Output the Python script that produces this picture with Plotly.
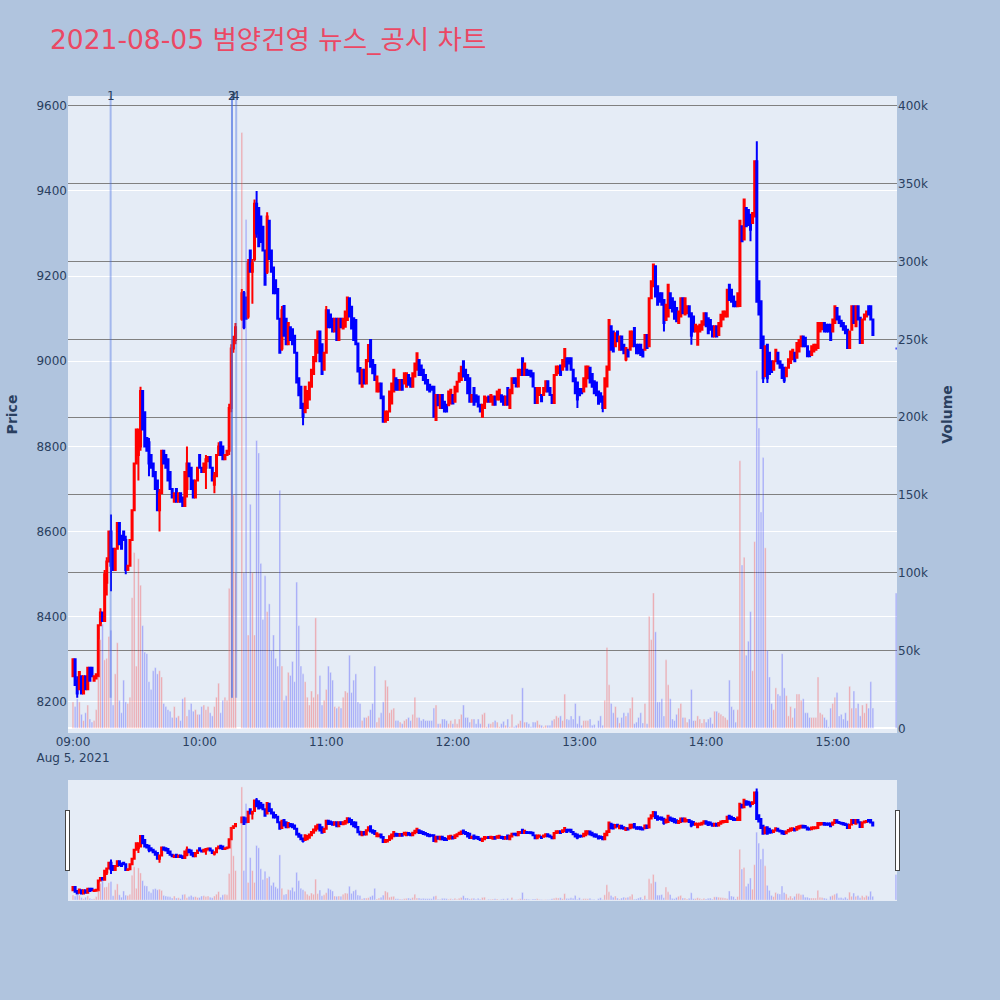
import pandas as pd
import plotly.graph_objects as go
from plotly.subplots import make_subplots

title = "2021-08-05 범양건영 뉴스_공시 차트"
day = "2021-08-05"

# 1분봉 09:00 ~ 15:19 (10:18, 10:19 체결 없음) + 15:30 종가
skip_times = ["10:18", "10:19"]
close_time = "15:30"

open_p = [
    # 09:00
    8260, 8300, 8250, 8230, 8260, 8220, 8260, 8230, 8280, 8280,
    8250, 8255, 8260, 8380, 8410, 8390, 8480, 8530, 8600, 8560,
    8510, 8560, 8620, 8590, 8600, 8580, 8510, 8520, 8580, 8650,
    8760, 8780, 8800, 8930, 8880, 8820, 8810, 8780, 8760, 8740,
    8720, 8650, 8690, 8790, 8780, 8770, 8740, 8700, 8670, 8700,
    8670, 8690, 8680, 8660, 8700, 8760, 8750, 8720, 8680, 8720,
    # 10:00
    8780, 8750, 8740, 8750, 8765, 8775, 8750, 8710, 8730, 8780,
    8810, 8800, 8770, 8780, 8790, 8890, 9030, 9050,
    9100, 9160, 9150, 9105, 9260, 9210, 9240, 9370, 9360, 9340,
    9316, 9260, 9210, 9330, 9260, 9220, 9190, 9170, 9100, 9030,
    9130, 9100, 9040, 9080, 9075, 9060, 9020, 8960, 8940, 8900,
    8880, 8890, 8910, 8940, 8970, 9000, 9020, 9070, 9040, 8980,
    # 11:00
    9020, 9120, 9110, 9100, 9070, 9100, 9050,
    9100, 9077, 9081, 9097, 9148, 9128, 9101, 9097, 9042, 8984,
    8940, 8980, 8948, 9000, 9050, 9003, 8991, 8929, 8929, 8948,
    8917, 8858, 8862, 8882, 8901, 8929, 8960, 8956, 8933, 8956,
    8948, 8940, 8968, 8960, 8940, 8964, 8980, 9003, 8990, 8980,
    8968, 8956, 8945, 8940, 8940, 8862, 8921, 8890, 8921, 8905,
    # 11:57
    8898, 8897, 8901, 8921, 8905, 8929, 8952, 8956, 9000, 8980,
    8968, 8960, 8905,
    8937, 8920, 8917, 8898, 8870, 8890, 8905, 8917, 8905, 8898,
    8917, 8910, 8910, 8920, 8917, 8898, 8937, 8890, 8925, 8960,
    8960, 8941, 8968, 9007, 8968, 8980, 8978, 8978, 8972, 8937,
    8902, 8921, 8921, 8921, 8929, 8953, 8937, 8921, 8902, 8968,
    8972, 8990, 8980, 8988, 9007, 9007, 9007, 8980, 8960, 8950,
    # 13:00
    8935, 8935, 8929, 8941, 8960, 8985, 8970, 8953, 8950, 8929,
    8925, 8917, 8890, 8941,
    8980, 9082, 9070, 9035, 9070, 9027, 9058, 9039, 9004, 9027,
    9027, 9035, 9078, 9039, 9039, 9039, 9027, 9027, 9062, 9035,
    9148, 9176, 9223, 9176, 9160, 9160, 9144, 9097, 9105, 9160,
    9148, 9140, 9125, 9090, 9105, 9148, 9110, 9113, 9129, 9113,
    # 13:54
    9105, 9070, 9039, 9070, 9074, 9086, 9113, 9101, 9097, 9082,
    9058, 9082, 9062, 9082, 9098, 9105, 9105, 9180, 9168, 9152,
    9140, 9129,
    9130, 9317, 9286, 9360, 9355, 9344, 9325, 9340, 9470, 9188,
    9141, 9058, 8965, 9039, 9020, 9000, 8980, 9000, 9020, 9000,
    8992, 8985, 8965, 8985, 8996, 9005, 9020, 9008, 9023, 9035,
    9058, 9055, 9035, 9023, 9015, 9023, 9027, 9031, 9070, 9075,
    9090, 9086, 9086, 9086, 9070, 9090, 9125, 9105, 9095, 9090,
    9082, 9074, 9031, 9074, 9129, 9082, 9129, 9102, 9043, 9098,
    9105, 9129, 9129, 9098,
    9030,
]

close_p = [
    # 09:00
    8300, 8240, 8220, 8270, 8220, 8260, 8230, 8280, 8250, 8260,
    8260, 8265, 8380, 8410, 8390, 8500, 8530, 8600, 8520, 8510,
    8560, 8620, 8570, 8560, 8580, 8510, 8520, 8580, 8650, 8760,
    8840, 8840, 8930, 8840, 8800, 8790, 8760, 8750, 8730, 8700,
    8650, 8690, 8790, 8760, 8750, 8720, 8700, 8680, 8690, 8670,
    8690, 8670, 8660, 8740, 8760, 8730, 8700, 8680, 8720, 8750,
    # 10:00
    8750, 8740, 8760, 8770, 8775, 8750, 8720, 8730, 8780, 8800,
    8780, 8770, 8780, 8790, 8890, 9030, 9050, 9080,
    9160, 9080, 9100, 9230, 9210, 9230, 9370, 9300, 9270, 9280,
    9260, 9180, 9340, 9240, 9210, 9160, 9160, 9100, 9020, 9120,
    9060, 9040, 9090, 9050, 9040, 9020, 8950, 8920, 8890, 8870,
    8940, 8930, 8950, 8980, 9010, 9050, 9070, 9000, 8970, 9020,
    # 11:00
    9120, 9080, 9080, 9070, 9100, 9050, 9100,
    9080, 9100, 9117, 9150, 9105, 9077, 9050, 9040, 8976, 8948,
    8980, 8948, 9003, 9038, 8987, 8972, 8956, 8964, 8948, 8913,
    8858, 8882, 8882, 8929, 8948, 8980, 8933, 8933, 8956, 8933,
    8972, 8972, 8945, 8940, 8972, 8995, 9019, 8968, 8968, 8956,
    8948, 8933, 8929, 8933, 8870, 8921, 8897, 8921, 8890, 8882,
    # 11:57
    8882, 8929, 8933, 8901, 8940, 8952, 8972, 8987, 8964, 8956,
    8925, 8905, 8921,
    8898, 8905, 8894, 8882, 8898, 8917, 8915, 8905, 8921, 8917,
    8898, 8929, 8933, 8905, 8898, 8917, 8898, 8933, 8960, 8949,
    8941, 8980, 8980, 8968, 8995, 8968, 8968, 8964, 8941, 8902,
    8937, 8937, 8906, 8937, 8953, 8929, 8921, 8902, 8968, 8988,
    8988, 8968, 9003, 9029, 8980, 8995, 8980, 8953, 8925, 8910,
    # 13:00
    8920, 8925, 8960, 8988, 8988, 8950, 8940, 8925, 8920, 8900,
    8905, 8890, 8960, 8988,
    9097, 9027, 9023, 9066, 9047, 9058, 9027, 9019, 9031, 9011,
    9070, 9070, 9035, 9019, 9019, 9015, 9011, 9062, 9031, 9148,
    9188, 9227, 9152, 9133, 9140, 9133, 9090, 9133, 9180, 9125,
    9117, 9100, 9094, 9117, 9148, 9113, 9148, 9129, 9105, 9060,
    # 13:54
    9070, 9086, 9082, 9086, 9094, 9113, 9082, 9066, 9074, 9058,
    9082, 9058, 9090, 9109, 9117, 9117, 9168, 9144, 9140, 9129,
    9129, 9160,
    9330, 9282, 9380, 9317, 9320, 9309, 9348, 9470, 9140, 9110,
    9031, 8960, 9035, 8960, 8970, 8975, 9000, 9027, 8995, 8985,
    8961, 8955, 8985, 9005, 9023, 9027, 9000, 9043, 9050, 9058,
    9035, 9035, 9012, 9012, 9035, 9039, 9039, 9090, 9090, 9090,
    9070, 9070, 9070, 9050, 9098, 9129, 9098, 9090, 9082, 9074,
    9066, 9031, 9070, 9129, 9090, 9129, 9098, 9043, 9098, 9110,
    9117, 9110, 9098, 9062,
    9030,
]

# 꼬리가 몸통 밖으로 나온 봉: 시각 -> (고가, 저가)
wicks = {
    "09:02": (8260, 8210), "09:13": (8420, 8380), "09:15": (8510, 8390),
    "09:16": (8540, 8450), "09:18": (8640, 8460), "09:25": (8590, 8500),
    "09:31": (8840, 8720), "09:32": (8940, 8790), "09:36": (8820, 8730),
    "09:41": (8700, 8600), "09:54": (8800, 8680), "10:03": (8780, 8700),
    "10:07": (8740, 8690), "10:09": (8810, 8780), "10:14": (8900, 8780),
    "10:15": (9040, 8880), "10:16": (9060, 9020), "10:17": (9090, 9040),
    "10:20": (9170, 9095), "10:21": (9165, 9075), "10:23": (9240, 9100),
    "10:25": (9240, 9135), "10:26": (9380, 9235), "10:27": (9400, 9290),
    "10:32": (9350, 9205), "10:39": (9130, 9025), "10:49": (8900, 8850),
    "11:00": (9130, 9020), "12:59": (8950, 8890), "13:11": (8917, 8880),
    "13:22": (9031, 9000), "13:40": (9144, 9070), "13:53": (9113, 9039),
    "14:21": (9344, 9282), "14:24": (9517, 9140), "14:27": (9058, 8949),
    "14:29": (9039, 8949), "14:37": (8985, 8949),
}

# 거래량 (천 주)
volume_k = [
    # 09:00
    17, 14, 19, 17, 9, 5, 10, 15, 6, 4,
    5, 12, 33, 57, 67, 44, 45, 59, 63, 15,
    35, 55, 18, 10, 31, 17, 16, 20, 84, 113,
    40, 109, 92, 66, 49, 48, 30, 25, 37, 39,
    35, 37, 33, 16, 14, 12, 11, 7, 14, 7,
    8, 5, 19, 20, 8, 12, 16, 11, 12, 9,
    # 10:00
    9, 14, 15, 12, 14, 10, 8, 14, 20, 29,
    10, 18, 20, 18, 90, 250, 150, 100,
    383, 100, 327, 60, 144, 100, 60, 185, 177, 106,
    70, 98, 75, 80, 50, 60, 45, 40, 153, 40,
    18, 21, 36, 34, 43, 30, 94, 66,
    40, 35, 30, 20, 15, 24, 20, 71, 22, 34, 15, 18,
    # 11:00
    25, 40, 36, 31, 14, 13, 14,
    13, 20, 24, 23, 47, 23, 31, 35, 17, 16,
    5, 7, 7, 8, 12, 16, 40, 4, 7, 10,
    17, 31, 27, 10, 12, 13, 5, 5, 4, 3,
    5, 6, 7, 5, 9, 20, 7, 7, 5, 6,
    5, 5, 5, 5, 13, 15, 3, 3, 6, 6,
    5, 3, 5, 3, 6, 3, 6, 9, 15, 7,
    7, 4, 6, 6, 3, 6, 3, 9, 10, 1,
    3, 3, 4, 5, 4,
    # 12:22
    1, 3, 4.5, 2, 6, 1, 9, 1, 2, 3,
    5, 26, 4, 4, 3, 1, 4, 4, 5, 2.5,
    2, 1, 2, 2, 2, 5, 6, 8, 7, 8,
    5, 22, 6, 5.5, 8, 6, 16, 3, 8, 2,
    5, 5, 5, 6, 2, 2.5, 0.5, 5, 8, 2,
    18, 52, 28, 16, 10, 14, 7, 3.5, 7, 10,
    8, 10, 13, 20, 3, 4, 7, 10, 3.5, 16,
    3, 72, 57, 87, 62, 17, 17, 19, 8, 44,
    28, 19, 6, 5, 9, 13, 16, 7, 7, 4,
    6, 25, 5, 5, 8, 6, 3.5, 6, 4, 6,
    7, 3, 11, 11, 10, 9, 8, 7, 5.5, 31,
    14, 12, 4, 12, 172, 105, 110, 47, 56, 75,
    37, 120, 230, 193, 139, 174, 116, 50, 33, 16,
    12, 26, 22, 21, 48, 26, 21, 8, 14, 7,
    13, 22, 22, 18, 19, 10, 10, 7, 7, 7,
    7, 33, 10, 9, 7, 5.5, 1, 13, 16, 20,
    23, 8, 9, 6, 10, 5, 27, 13, 24, 13,
    16, 8, 15, 10, 16, 13, 30, 13,
    87,
]

# 뉴스/공시 시각
news_times = ["09:17:50", "10:15:20", "10:15:20", "10:17:20"]
news_labels = ["1", "2", "3", "4"]

price_range = [8127, 9623]
volume_range = [-3000, 406400]
time_range = [day + " 08:57:38", day + " 15:30:25"]

times = pd.date_range(day + " 09:00", day + " 15:19", freq="min")
times = times[~times.strftime("%H:%M").isin(skip_times)]
times = times.append(pd.DatetimeIndex([pd.Timestamp(day + " " + close_time)]))
labels = list(times.strftime("%H:%M"))

high_p = [max(o, c) for o, c in zip(open_p, close_p)]
low_p = [min(o, c) for o, c in zip(open_p, close_p)]
for t, (h, l) in wicks.items():
    i = labels.index(t)
    high_p[i] = h
    low_p[i] = l

bar_colors = ['red' if c > o else 'blue' for o, c in zip(open_p, close_p)]
volume = [v * 1000 for v in volume_k]

fig = make_subplots(specs=[[{"secondary_y": True}]])

fig.add_trace(go.Candlestick(x=times, open=open_p, high=high_p, low=low_p, close=close_p,
                             increasing_line_color='red', increasing_fillcolor='red',
                             decreasing_line_color='blue', decreasing_fillcolor='blue',
                             name="Price", showlegend=False),
              secondary_y=False)

fig.add_trace(go.Bar(x=times, y=volume, marker_color=bar_colors, opacity=0.3,
                     name="Volume", showlegend=False),
              secondary_y=True)

for t, lab in zip(news_times, news_labels):
    x = pd.Timestamp(day + " " + t)
    fig.add_shape(type="line", x0=x, x1=x, y0=min(low_p), y1=price_range[1],
                  xref="x", yref="y", line=dict(color="royalblue", width=2), opacity=0.4)
    fig.add_annotation(x=x, y=price_range[1], text=lab, showarrow=False,
                       yanchor="middle", font=dict(size=12, color="#2a3f5f"))

fig.update_layout(
    title=dict(text=title, x=0.05, y=0.96, yanchor="middle",
               font=dict(size=26.5, color="#EB4864")),
    font=dict(family="DejaVu Sans, Noto Sans CJK KR, sans-serif"),
    width=1000, height=1000,
    margin=dict(l=68, r=103, t=96, b=100),
    paper_bgcolor="lightsteelblue",
    showlegend=False,
)
fig.update_xaxes(domain=[0, 1], range=time_range, showgrid=False,
                 rangeslider=dict(visible=True))
fig.update_yaxes(title_text="<b>Price</b>", title_font_size=14, range=price_range, dtick=200,
                 secondary_y=False)
fig.update_yaxes(title_text="<b>Volume</b>", title_font_size=14, range=volume_range, dtick=50000,
                 gridcolor="gray", secondary_y=True)

fig.write_html("out.html", config={"displayModeBar": False},
               post_script="document.body.style.margin = '0';")
